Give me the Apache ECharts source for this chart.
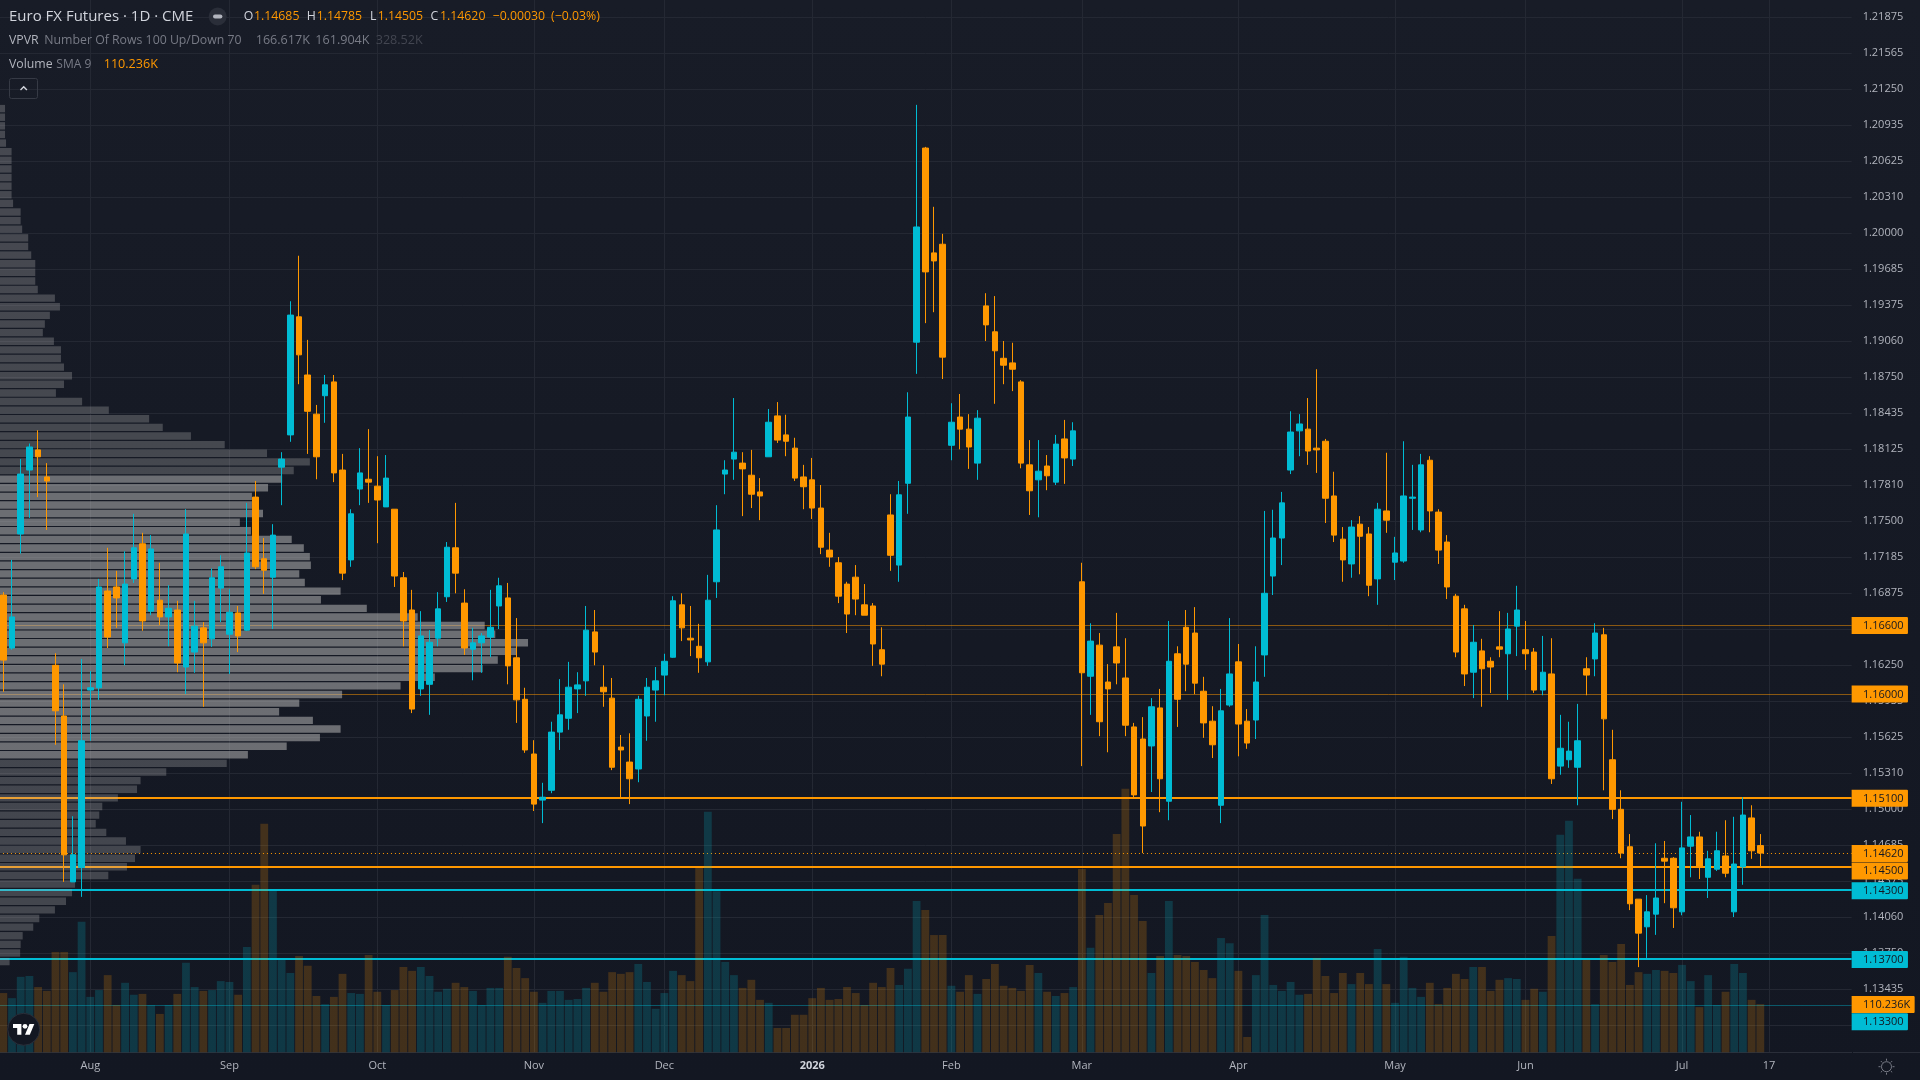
<!DOCTYPE html>
<html>
<head>
<meta charset="utf-8">
<title>Euro FX Futures 1D</title>
<style>
html,body{margin:0;padding:0;background:#131722;}
#chart{width:1920px;height:1080px;}
</style>
<script src="https://cdn.jsdelivr.net/npm/echarts@6/dist/echarts.min.js"></script>
</head>
<body>
<div id="chart"></div>
<script>
// Daily sessions, oldest first
const opens = [
1.16860,1.16400,1.17390,1.17945,1.18120,1.17885,1.16250,1.15810,1.14370,1.14495,
1.16035,1.16055,1.16895,1.16930,1.16445,1.17000,1.17305,1.16720,1.16815,1.16670,
1.16730,1.16235,1.16365,1.16575,1.16480,1.16920,1.16520,1.16705,1.16555,1.17710,
1.17175,1.17015,1.17970,1.18250,1.19275,1.18770,1.18430,1.18590,1.18710,1.17945,
1.17165,1.17780,1.17865,1.17805,1.17625,1.17605,1.17010,1.16730,1.16045,1.16085,
1.16485,1.16845,1.17270,1.16790,1.16390,1.16445,1.16495,1.16765,1.16835,1.16315,
1.15955,1.15480,1.15080,1.15165,1.15670,1.15790,1.16045,1.16115,1.16540,1.16060,
1.15965,1.15540,1.15410,1.15350,1.15810,1.16035,1.16165,1.16320,1.16775,1.16485,
1.16415,1.16280,1.16975,1.17910,1.18040,1.18005,1.17900,1.17755,1.18060,1.18415,
1.18250,1.18135,1.17885,1.17860,1.17615,1.17250,1.17140,1.16955,1.17015,1.16775,
1.16765,1.16385,1.17555,1.17120,1.17830,1.19055,1.20740,1.19830,1.19905,1.18160,
1.18405,1.18300,1.18005,1.19370,1.19145,1.18915,1.18875,1.18710,1.17990,1.17860,
1.17980,1.17840,1.18215,1.18040,1.16975,1.16155,1.16425,1.16105,1.16410,1.16140,
1.15715,1.15610,1.15550,1.15880,1.15070,1.16350,1.16580,1.16530,1.16025,1.15765,
1.15035,1.15905,1.16280,1.15765,1.15775,1.16340,1.17025,1.17355,1.17945,1.18285,
1.18300,1.18135,1.18195,1.17720,1.17345,1.17130,1.17475,1.17390,1.17000,1.17590,
1.17145,1.17155,1.17700,1.17425,1.18030,1.17580,1.17320,1.16850,1.16740,1.16190,
1.16375,1.16285,1.16410,1.16350,1.16590,1.16385,1.16365,1.16035,1.16175,1.15375,
1.15430,1.15365,1.16220,1.16305,1.16515,1.15430,1.15000,1.14675,1.14220,1.13980,
1.14090,1.14575,1.14575,1.14110,1.14680,1.14760,1.14410,1.14480,1.14595,1.14110,
1.14500,1.14925,1.14685];
const highs = [
1.16885,1.17165,1.18040,1.18175,1.18290,1.18005,1.16355,1.16085,1.14940,1.16305,
1.16200,1.17000,1.17270,1.17070,1.17240,1.17565,1.17400,1.17380,1.17140,1.16945,
1.16810,1.17605,1.16810,1.16625,1.17090,1.17205,1.16910,1.16765,1.17660,1.17850,
1.17355,1.17475,1.18100,1.19410,1.19805,1.19075,1.18510,1.18770,1.18770,1.18085,
1.17605,1.18135,1.18300,1.18065,1.18075,1.17605,1.17060,1.16905,1.16720,1.16555,
1.16885,1.17320,1.17660,1.16910,1.16575,1.16530,1.16905,1.17010,1.16965,1.16660,
1.16055,1.15600,1.15230,1.15760,1.16130,1.16280,1.16190,1.16765,1.16730,1.16250,
1.16140,1.15645,1.15660,1.15985,1.16140,1.16235,1.16350,1.16850,1.16875,1.16765,
1.16610,1.17035,1.17640,1.18030,1.18570,1.18100,1.18120,1.17875,1.18475,1.18535,
1.18425,1.18225,1.17990,1.18050,1.17815,1.17400,1.17190,1.16975,1.17120,1.16955,
1.16790,1.16580,1.17735,1.17850,1.18620,1.21115,1.20750,1.20230,1.19995,1.18525,
1.18605,1.18430,1.18465,1.19480,1.19455,1.19065,1.19050,1.18725,1.18205,1.18205,
1.18075,1.18250,1.18380,1.18360,1.17140,1.16615,1.16530,1.16260,1.16705,1.16485,
1.15750,1.15800,1.15965,1.16045,1.16635,1.16415,1.16730,1.16755,1.16150,1.15895,
1.16045,1.16660,1.16435,1.15870,1.16415,1.17590,1.17600,1.17755,1.18455,1.18430,
1.18570,1.18820,1.18215,1.17930,1.17450,1.17510,1.17545,1.17450,1.17660,1.18095,
1.17365,1.18195,1.17990,1.18085,1.18065,1.17605,1.17380,1.16870,1.16775,1.16600,
1.16480,1.16320,1.16720,1.16705,1.16940,1.16635,1.16400,1.16505,1.16485,1.15820,
1.15760,1.15915,1.16320,1.16615,1.16575,1.15690,1.15165,1.14785,1.14220,1.14255,
1.14705,1.14725,1.14585,1.15065,1.14950,1.14805,1.14640,1.14805,1.14905,1.14935,
1.15105,1.15035,1.14785];
const lows = [
1.16020,1.16385,1.17220,1.17530,1.17710,1.17425,1.15560,1.14370,1.14370,1.14240,
1.15595,1.15950,1.16400,1.16575,1.16250,1.16965,1.16550,1.16685,1.16600,1.16415,
1.16190,1.16000,1.16185,1.15890,1.16410,1.16625,1.16175,1.16365,1.16550,1.17085,
1.16870,1.16565,1.17640,1.18190,1.18690,1.18085,1.17865,1.18355,1.17840,1.16990,
1.17105,1.17640,1.17660,1.17310,1.17625,1.16930,1.16415,1.15835,1.15985,1.15820,
1.16415,1.16800,1.16875,1.16340,1.16120,1.16185,1.16320,1.16565,1.16085,1.15750,
1.15490,1.14985,1.14880,1.15140,1.15515,1.15690,1.15835,1.15985,1.16250,1.15890,
1.15340,1.15105,1.15045,1.15235,1.15595,1.15760,1.15990,1.16315,1.16460,1.16330,
1.16185,1.16245,1.16835,1.17735,1.17860,1.17545,1.17615,1.17510,1.18060,1.18180,
1.18065,1.17850,1.17605,1.17520,1.17215,1.17105,1.16790,1.16530,1.16685,1.16685,
1.16245,1.16155,1.17070,1.16975,1.17565,1.18780,1.19220,1.19315,1.18735,1.18030,
1.18125,1.17955,1.17860,1.19065,1.18520,1.18690,1.18630,1.17960,1.17555,1.17535,
1.17770,1.17815,1.17825,1.17980,1.15375,1.15820,1.15635,1.15495,1.16085,1.15635,
1.15105,1.14620,1.15150,1.14975,1.14905,1.15715,1.16025,1.16000,1.15620,1.15445,
1.14880,1.15890,1.15460,1.15525,1.15610,1.16150,1.16860,1.17120,1.17910,1.18065,
1.17990,1.17920,1.17485,1.17320,1.16975,1.17010,1.17040,1.16850,1.16775,1.17400,
1.16990,1.17140,1.17425,1.17405,1.17405,1.17130,1.16825,1.16320,1.16070,1.15965,
1.15890,1.16010,1.16320,1.15950,1.16330,1.16210,1.16010,1.15990,1.15220,1.15300,
1.15360,1.15035,1.15990,1.16155,1.15165,1.14915,1.14575,1.14125,1.13630,1.13710,
1.13910,1.14185,1.13970,1.14080,1.14410,1.14395,1.14230,1.14465,1.14410,1.14065,
1.14345,1.14570,1.14505];
const closes = [
1.16295,1.16670,1.17910,1.18145,1.18060,1.17850,1.15855,1.14605,1.14605,1.15595,
1.16055,1.16930,1.16495,1.16835,1.16955,1.17270,1.16635,1.17260,1.16670,1.16745,
1.16270,1.17390,1.16590,1.16445,1.17010,1.17105,1.16710,1.16505,1.17225,1.17105,
1.17075,1.17380,1.18040,1.19290,1.18945,1.18455,1.18060,1.18685,1.17920,1.17050,
1.17565,1.17920,1.17840,1.17685,1.17875,1.17025,1.16635,1.15870,1.16505,1.16450,
1.16740,1.17275,1.17050,1.16400,1.16445,1.16505,1.16580,1.16940,1.16245,1.15950,
1.15515,1.15045,1.15105,1.15670,1.15820,1.16060,1.16080,1.16555,1.16365,1.16020,
1.15365,1.15515,1.15265,1.15955,1.16060,1.16115,1.16285,1.16810,1.16575,1.16470,
1.16315,1.16815,1.17425,1.17945,1.18100,1.17955,1.17735,1.17720,1.18360,1.18205,
1.18195,1.17875,1.17800,1.17615,1.17275,1.17190,1.16850,1.16695,1.16825,1.16685,
1.16435,1.16260,1.17205,1.17730,1.18405,1.20055,1.19665,1.19760,1.18925,1.18360,
1.18300,1.18145,1.18395,1.19205,1.18980,1.18855,1.18820,1.18005,1.17765,1.17935,
1.17895,1.18170,1.18050,1.18285,1.16185,1.16460,1.15760,1.16045,1.16270,1.15730,
1.15125,1.14855,1.15890,1.15265,1.16285,1.15955,1.16260,1.16095,1.15750,1.15560,
1.15855,1.16175,1.15740,1.15575,1.16105,1.16875,1.17355,1.17660,1.18275,1.18345,
1.18110,1.18120,1.17700,1.17380,1.17165,1.17450,1.17370,1.16945,1.17605,1.17510,
1.17225,1.17720,1.17710,1.17990,1.17590,1.17250,1.16930,1.16365,1.16175,1.16450,
1.16220,1.16235,1.16390,1.16565,1.16730,1.16350,1.16035,1.16190,1.15265,1.15530,
1.15505,1.15595,1.16165,1.16530,1.15785,1.15000,1.14620,1.14180,1.13925,1.14110,
1.14230,1.14550,1.14145,1.14665,1.14760,1.14500,1.14570,1.14640,1.14445,1.14525,
1.14950,1.14640,1.14620];
// Session volume, thousands of contracts
const volumes = [
139,127,177,179,153,144,235,235,188,306,
130,146,181,111,163,135,137,111,90,111,
137,210,153,144,146,167,165,135,247,393,
536,381,219,186,226,203,132,113,130,184,
139,137,228,142,111,146,200,191,200,179,
142,149,163,153,144,111,151,151,224,198,
174,142,116,144,144,123,125,151,163,142,
188,184,188,207,165,102,139,191,181,167,
432,564,378,212,181,151,170,123,116,57,
57,88,88,127,151,123,125,153,139,111,
163,153,198,158,196,355,334,275,275,156,
142,181,137,172,207,156,151,144,205,186,
142,132,139,153,430,245,322,350,512,618,
369,308,186,226,355,228,226,212,193,174,
268,256,191,36,181,322,158,144,165,135,
137,221,179,139,186,160,186,160,242,160,
116,224,151,130,163,113,151,184,172,200,
200,144,170,174,172,123,149,142,273,510,
543,407,217,113,228,212,254,158,188,184,
193,191,186,205,167,106,181,111,142,207,
186,123,113];
const volumeSma = 110.236;
// Visible-range volume profile, 100 rows from the highest price down, thousands of contracts
const profileRows = [
0.10,0.10,0.10,0.10,0.12,0.23,0.23,0.23,0.23,0.23,
0.23,0.26,0.41,0.41,0.44,0.56,0.56,0.62,0.70,0.70,
0.70,0.75,1.09,1.19,0.99,0.89,0.85,1.07,1.21,1.21,
1.27,1.43,1.27,1.11,1.63,2.16,2.96,3.23,3.79,4.46,
5.30,6.15,5.83,5.60,5.32,5.00,5.00,5.22,4.76,4.98,
5.79,6.03,6.15,6.17,5.94,6.05,6.76,6.37,7.28,8.29,
9.62,9.83,10.48,10.25,9.88,9.58,8.63,7.95,6.79,5.94,
5.54,6.21,6.76,6.35,5.69,4.92,4.50,3.30,2.79,2.72,
2.34,2.03,1.97,1.90,2.11,2.50,2.79,2.68,2.52,2.15,
1.49,1.43,1.31,1.09,0.78,0.66,0.45,0.41,0.40,0.19];
const valueAreaFirstRow = 43;
const valueAreaLastRow = 75;

// Time scale
const monthTickBars = [10,26,43,61,76,93,109,124,142,160,175,193,203];
const monthTickLabels = ['Aug','Sep','Oct','Nov','Dec','2026','Feb','Mar','Apr','May','Jun','Jul','17'];
const barSlots = 213;

// Price scale labels, lowest tick first
const priceTickLabels = ['',
'1.13125','1.13435','1.13750','1.14060','1.14375','1.14685','1.15000','1.15310','1.15625','1.15935',
'1.16250','1.16560','1.16875','1.17185','1.17500','1.17810','1.18125','1.18435','1.18750','1.19060',
'1.19375','1.19685','1.20000','1.20310','1.20625','1.20935','1.21250','1.21565','1.21875',''];
const priceStep = 0.003125;
const priceMin = 1.128125;
const priceMax = 1.221875;

// Horizontal price levels
const levelPrices = [1.166, 1.16, 1.151, 1.1462, 1.145, 1.143, 1.137, 1.133];
const levelTexts = ['1.16600','1.16000','1.15100','1.14620','1.14500','1.14300','1.13700','1.13300'];

const ORANGE = '#ff9800', TEAL = '#00bcd4', DARK = '#131722';
const AXIS_TEXT = '#b2b5be', GRID_LINE = '#242833', FONT = '"Open Sans", sans-serif';

const levelStyles = [
  {color:'rgba(255,152,0,0.5)', width:1},
  {color:'rgba(255,152,0,0.5)', width:1},
  {color:ORANGE, width:2},
  {color:ORANGE, width:1, dash:[1,3]},
  {color:ORANGE, width:2},
  {color:TEAL, width:2},
  {color:TEAL, width:2},
  {color:'rgba(0,188,212,0.4)', width:1}
];
const tagFill = [ORANGE,ORANGE,ORANGE,ORANGE,ORANGE,TEAL,TEAL,TEAL];
const tagShift = [0.5,0,0.5,0.5,4,0.7,0.5,16.6];

const categories = Array.from({length:barSlots},(_,i)=>String(i));
const candleData = opens.map((o,i)=>[o,closes[i],lows[i],highs[i]]);
const volumeData = volumes.map((v,i)=>({
  value:v,
  itemStyle:{color: closes[i]<opens[i] ? 'rgba(255,152,0,0.2)' : 'rgba(0,188,212,0.2)'}
}));
const profileData = profileRows.map((v,i)=>({
  value:v,
  itemStyle:{color: (i>=valueAreaFirstRow && i<=valueAreaLastRow) ? 'rgba(180,180,180,0.55)' : 'rgba(180,180,180,0.3)'}
}));

const tickIndex = i => monthTickBars.indexOf(Number(i));

function renderLevel(params, api){
  const cs = params.coordSys;
  const st = levelStyles[params.dataIndex];
  let y = api.coord([0, api.value(1)])[1];
  y = Math.round(y) + (st.width % 2 ? 0.5 : 0);
  return {
    type:'line',
    shape:{x1:cs.x, y1:y, x2:cs.x+cs.width, y2:y},
    style:{stroke:st.color, lineWidth:st.width, lineDash:st.dash || null}
  };
}
function tagShape(y, right, text, fill, w){
  return {
    type:'group',
    children:[
      {type:'rect', shape:{x:right, y:y-8.5, width:w, height:17, r:[0,1,1,0]}, style:{fill}},
      {type:'text', style:{text, x:right+11.3, y:y+0.3, fill:DARK, font:'11px '+FONT, align:'left', verticalAlign:'middle'}}
    ]
  };
}
function renderPriceTag(params, api){
  const cs = params.coordSys, i = params.dataIndex;
  const y = api.coord([0, api.value(1)])[1] + tagShift[i];
  return tagShape(y, cs.x+cs.width, levelTexts[i], tagFill[i], 56.3);
}
function renderVolumeTag(params, api){
  const cs = params.coordSys;
  const y = api.coord([0, api.value(1)])[1] - 0.8;
  return tagShape(y, cs.x+cs.width, '110.236K', ORANGE, 63);
}

// Fixed chrome above the plot: legend rows, collapse button, logo, settings icon
function text(str, x, y, fill, size){
  return {type:'text', z:50, silent:true, x, y,
    style:{text:str, fill, font:(size||12)+'px '+FONT, textAlign:'left', textVerticalAlign:'middle'}};
}
const GREY='#787b86', LIGHT='#b2b5be', TITLE='#d1d4dc';
const gearRays = [0,1,2,3,4,5,6,7].map(k=>{
  const a=k*Math.PI/4, c=Math.cos(a), s=Math.sin(a);
  return {type:'line', z:50, silent:true, shape:{x1:1886.5+6*c,y1:1066.7+6*s,x2:1886.5+8*c,y2:1066.7+8*s},
    style:{stroke:GREY, lineWidth:1}};
});
const chrome = [
  text('Euro FX Futures · 1D · CME', 9, 16.5, TITLE, 15),
  {type:'circle', z:50, silent:true, shape:{cx:217.7, cy:16.5, r:9}, style:{fill:'#2a2e39'}},
  {type:'rect', z:51, silent:true, shape:{x:213, y:14.5, width:9.4, height:4, r:2}, style:{fill:LIGHT}},
  text('O', 243.7, 16.5, TITLE, 12.3), text('1.14685', 254, 16.5, ORANGE, 12.3),
  text('H', 306.7, 16.5, TITLE, 12.3), text('1.14785', 316.7, 16.5, ORANGE, 12.3),
  text('L', 370, 16.5, TITLE, 12.3), text('1.14505', 377.7, 16.5, ORANGE, 12.3),
  text('C', 430.6, 16.5, TITLE, 12.3), text('1.14620', 440, 16.5, ORANGE, 12.3),
  text('\u22120.00030', 492.6, 16.5, ORANGE, 12.3), text('(\u22120.03%)', 551, 16.5, ORANGE, 12.3),
  text('VPVR', 9, 40.7, LIGHT, 12.3),
  text('Number Of Rows 100 Up/Down 70', 44.3, 40.7, GREY, 12.3),
  text('166.617K', 255.7, 40.7, GREY, 12.6),
  text('161.904K', 315.3, 40.7, GREY, 12.6),
  text('328.52K', 375.7, 40.7, '#434651', 12.6),
  text('Volume', 9, 64.7, LIGHT, 12.3),
  text('SMA 9', 56.3, 64.7, GREY, 12),
  text('110.236K', 103.7, 64.7, ORANGE, 12.6),
  {type:'rect', z:50, silent:true, shape:{x:9.5, y:78.5, width:28, height:20, r:2}, style:{fill:'rgba(0,0,0,0)', stroke:'#363a45', lineWidth:1}},
  {type:'polyline', z:51, silent:true, shape:{points:[[20.5,90],[23.7,86.8],[26.9,90]]}, style:{stroke:TITLE, lineWidth:1.4, fill:null}},
  {type:'circle', z:50, silent:true, shape:{cx:23.7, cy:1029.3, r:16}, style:{fill:'#131722', stroke:'#2a2e39', lineWidth:1}},
  {type:'group', x:13, y:1021.5, scaleX:0.6, scaleY:0.6, z:52, silent:true, children:[
    {type:'polygon', z:52, shape:{points:[[14,22],[7,22],[7,11],[0,11],[0,4],[14,4]]}, style:{fill:'#fff'}},
    {type:'circle', z:52, shape:{cx:20, cy:8, r:4}, style:{fill:'#fff'}},
    {type:'polygon', z:52, shape:{points:[[28,22],[20,22],[27.5,4],[35.5,4]]}, style:{fill:'#fff'}}
  ]},
  {type:'circle', z:50, silent:true, shape:{cx:1886.5, cy:1066.7, r:5}, style:{fill:'rgba(0,0,0,0)', stroke:GREY, lineWidth:1}},
  ...gearRays,
  {type:'line', z:50, silent:true, shape:{x1:1853, y1:1052.5, x2:1920, y2:1052.5}, style:{stroke:'#2a2e39', lineWidth:1}}
];

const plotLeft = -1.05, plotWidth = 1852.7;

const option = {
  animation:false,
  backgroundColor:{type:'linear', x:0, y:0, x2:0, y2:1, colorStops:[{offset:0,color:'#181c27'},{offset:1,color:'#131722'}]},
  textStyle:{fontFamily:FONT},
  grid:[
    {left:plotLeft, top:-18.7, width:plotWidth, height:1080, outerBoundsMode:'none'},
    {left:plotLeft, top:0, width:plotWidth, height:1052.3, outerBoundsMode:'none'},
    {left:0, top:104.3, width:1851.65, height:861.6, outerBoundsMode:'none'}
  ],
  xAxis:[
    {gridIndex:0, type:'category', data:categories, show:false, boundaryGap:true},
    {gridIndex:1, type:'category', data:categories, boundaryGap:true,
      axisLine:{show:true, lineStyle:{color:'#2a2e39', width:1}},
      axisTick:{show:false},
      splitLine:{show:true, alignWithLabel:true, interval:(i)=>tickIndex(i)>=0, lineStyle:{color:GRID_LINE, width:1}},
      axisLabel:{show:true, interval:(i)=>tickIndex(i)>=0, margin:8, hideOverlap:false,
        color:AXIS_TEXT, fontSize:11, fontFamily:FONT,
        formatter:(v)=>{
          const k=tickIndex(v); if(k<0) return '';
          return monthTickLabels[k]==='2026' ? '{yr|2026}' : monthTickLabels[k];
        },
        rich:{yr:{color:TITLE, fontSize:11, fontWeight:'bold', fontFamily:FONT}}
      }
    },
    {gridIndex:2, type:'value', min:0, max:36.75, show:false}
  ],
  yAxis:[
    {gridIndex:0, type:'value', position:'right', min:priceMin, max:priceMax, interval:priceStep, scale:true,
      axisLine:{show:false}, axisTick:{show:false},
      splitLine:{show:true, showMinLine:false, showMaxLine:false, lineStyle:{color:GRID_LINE, width:1}},
      axisLabel:{show:true, margin:11, color:AXIS_TEXT, fontSize:11, fontFamily:FONT, showMinLabel:false, showMaxLabel:false,
        formatter:(v)=>priceTickLabels[Math.round((v-priceMin)/priceStep)] || ''}
    },
    {gridIndex:1, type:'value', min:0, max:2468, show:false},
    {gridIndex:2, type:'category', inverse:true, show:false, data:profileRows.map((_,i)=>String(i))}
  ],
  graphic:{elements:chrome},
  series:[
    {name:'Levels', type:'custom', xAxisIndex:0, yAxisIndex:0, z:1, silent:true,
      data:levelPrices.map(p=>[0,p]), renderItem:renderLevel},
    {name:'VPVR', type:'bar', xAxisIndex:2, yAxisIndex:2, z:2, silent:true, barWidth:7.4, data:profileData},
    {name:'Volume', type:'bar', xAxisIndex:1, yAxisIndex:1, z:2, silent:true, barWidth:7.8, data:volumeData},
    {name:'Euro FX', type:'candlestick', xAxisIndex:0, yAxisIndex:0, z:3, silent:true, barWidth:6,
      itemStyle:{color:TEAL, color0:ORANGE, borderColor:TEAL, borderColor0:ORANGE, borderWidth:1},
      data:candleData},
    {name:'Price tags', type:'custom', xAxisIndex:0, yAxisIndex:0, z:10, silent:true,
      data:levelPrices.map(p=>[0,p]), renderItem:renderPriceTag},
    {name:'SMA tag', type:'custom', xAxisIndex:1, yAxisIndex:1, z:11, silent:true,
      data:[[0,volumeSma]], renderItem:renderVolumeTag}
  ]
};
const chart = echarts.init(document.getElementById('chart'), null, {renderer:'canvas'});
chart.setOption(option);
</script>
</body>
</html>
